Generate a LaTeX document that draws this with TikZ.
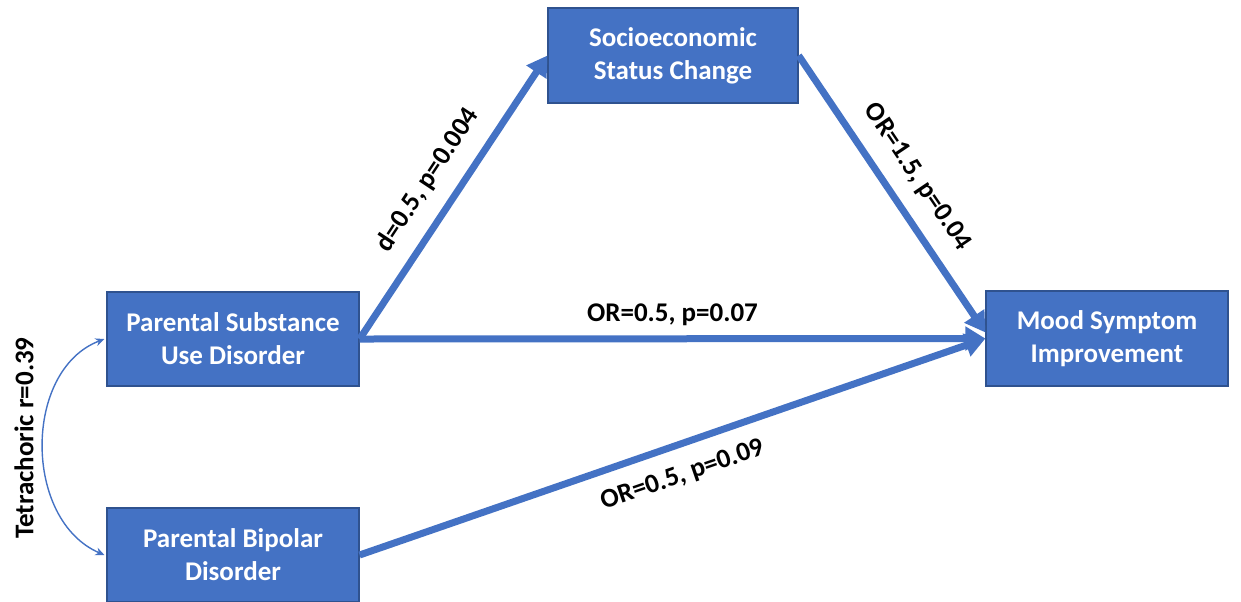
\documentclass[tikz,border=0pt]{standalone}
\usepackage{fontspec}
\setmainfont{Carlito}
\usetikzlibrary{arrows.meta}
\definecolor{boxblue}{HTML}{4472C4}
\definecolor{boxedge}{HTML}{2F528F}
\tikzset{
  varbox/.style={rectangle, fill=boxblue, draw=boxedge, line width=0.6pt, text=white,
    font=\fontsize{13.5}{16.5}\selectfont\bfseries, align=center, inner sep=0pt},
  patharrow/.style={draw=boxblue, line width=3.5pt, -{Triangle[length=10pt,width=11.5pt]}},
  corrarrow/.style={draw=boxblue, line width=0.7pt, {Stealth[length=4.5pt,width=4pt]}-{Stealth[length=4.5pt,width=4pt]}},
  elabel/.style={font=\fontsize{13.5}{16.5}\selectfont\bfseries, text=black, inner sep=2pt}
}
\begin{document}
\begin{tikzpicture}[x=0.5pt,y=-0.5pt]
\useasboundingbox (0,0) rectangle (1241,601);
\node[varbox, minimum width=125pt, minimum height=47.5pt] (socio) at (673,55.5) {Socioeconomic\\Status Change};
\node[varbox, minimum width=126pt, minimum height=47pt] (psud) at (233,339) {Parental Substance\\Use Disorder};
\node[varbox, minimum width=126pt, minimum height=47pt] (pbd) at (233,555) {Parental Bipolar\\Disorder};
\node[varbox, minimum width=121pt, minimum height=47.5pt] (mood) at (1107,338.5) {Mood Symptom\\Improvement};

\draw[patharrow] (psud.east) -- node[elabel, sloped, above=6pt] {d=0.5, p=0.004} (socio.west);
\draw[patharrow] (socio.east) -- node[elabel, sloped, above=6pt] {OR=1.5, p=0.04} ([yshift=3pt]mood.west);
\draw[patharrow] (psud.east) -- node[elabel, above=3pt] {OR=0.5, p=0.07} (mood.west);
\draw[patharrow] (pbd.east) -- node[elabel, sloped, below=6pt] {OR=0.5, p=0.09} (mood.west);

\draw[corrarrow] ([xshift=-1pt]psud.west) .. controls (23,370) and (23,520) .. ([xshift=-1pt]pbd.west);
\node[elabel, rotate=90] (tetra) at (24,438) {Tetrachoric r=0.39};
\end{tikzpicture}
\end{document}
